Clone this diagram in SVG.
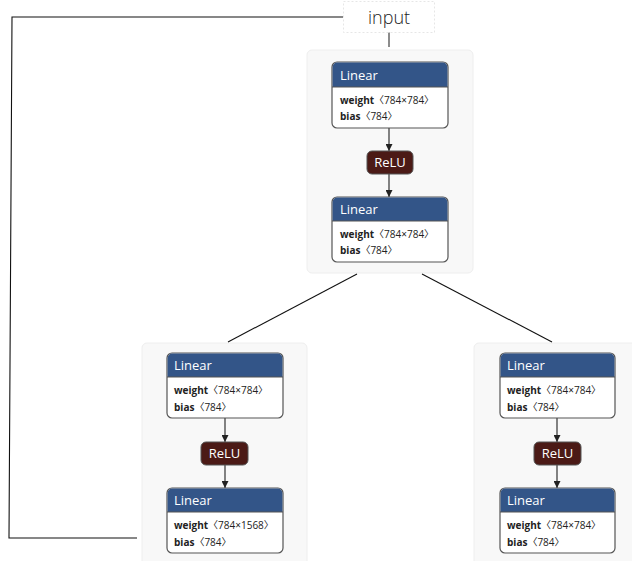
<svg xmlns="http://www.w3.org/2000/svg" width="632" height="561" viewBox="0 0 632 561">
<defs>
<marker id="arr" viewBox="0 0 10 10" refX="10" refY="5" markerWidth="7" markerHeight="7" markerUnits="userSpaceOnUse" orient="auto">
<path d="M0,0 L10,5 L0,10 z" fill="#222"/>
</marker>
<style>
.cont{fill:#f8f8f8;stroke:#eeeeee;stroke-width:1}
.lin{fill:#fff;stroke:#555;stroke-width:1.2}
.hdr{fill:#335588}
.relu{fill:#4b1a16;stroke:#555;stroke-width:1}
.t{font-family:"Open Sans","Noto Sans","Noto Sans CJK SC",sans-serif}
.ht{font-size:13px;fill:#fff}
.at{font-size:10px;fill:#222}
.b{font-weight:bold}
.e{stroke:#111;stroke-width:1.1;fill:none}
.ea{stroke:#333;stroke-width:1.2;fill:none;marker-end:url(#arr)}
</style>
</defs>
<rect width="632" height="561" fill="#fff"/>
<g id="containers">
<rect class="cont" x="307" y="50" width="166" height="223" rx="5"/>
<rect class="cont" x="142" y="343" width="165" height="230" rx="5"/>
<rect class="cont" x="474" y="343" width="170" height="230" rx="5"/>
</g>
<g id="connectors">
<path class="e" d="M343,17 L12,17 L9,538 L137,538"/>
<path d="M389,32 L389,47" stroke="#666" stroke-width="1.5"/>
<path class="e" d="M357,274 L228,342"/>
<path class="e" d="M422,274 L552,342"/>
<path class="ea" d="M389,128 L389,151"/>
<path class="ea" d="M389,174 L389,197"/>
<path class="ea" d="M225,418 L225,442"/>
<path class="ea" d="M225,465 L225,488"/>
<path class="ea" d="M557,418 L557,442"/>
<path class="ea" d="M557,465 L557,488"/>
</g>
<g id="input">
<rect x="343.5" y="1.5" width="91" height="31" fill="#fff" stroke="#e6e6e6" stroke-dasharray="2,2"/>
<text class="t" x="389" y="24" font-size="18" fill="#222" text-anchor="middle" font-weight="300">input</text>
</g>
<g id="lin1">
<rect class="lin" x="332" y="62" width="116" height="66" rx="5"/>
<path class="hdr" d="M337,62.6 H443 A4.4,4.4 0 0 1 447.4,67 V87 H332.6 V67 A4.4,4.4 0 0 1 337,62.6 Z"/>
<line x1="332" y1="87" x2="448" y2="87" stroke="#555" stroke-width="1"/>
<text class="t ht" x="340" y="80">Linear</text>
<text class="t at" x="340" y="104"><tspan class="b">weight</tspan>〈784×784〉</text>
<text class="t at" x="340" y="120"><tspan class="b">bias</tspan>〈784〉</text>
</g>
<g id="relu1">
<rect class="relu" x="367" y="151" width="46" height="23" rx="5"/>
<text class="t ht" x="390" y="167" text-anchor="middle">ReLU</text>
</g>
<g id="lin2">
<rect class="lin" x="332" y="197" width="116" height="65" rx="5"/>
<path class="hdr" d="M337,197.6 H443 A4.4,4.4 0 0 1 447.4,202 V221 H332.6 V202 A4.4,4.4 0 0 1 337,197.6 Z"/>
<line x1="332" y1="221" x2="448" y2="221" stroke="#555" stroke-width="1"/>
<text class="t ht" x="340" y="214">Linear</text>
<text class="t at" x="340" y="238"><tspan class="b">weight</tspan>〈784×784〉</text>
<text class="t at" x="340" y="254"><tspan class="b">bias</tspan>〈784〉</text>
</g>
<g id="lin3">
<rect class="lin" x="167" y="353" width="116" height="65" rx="5"/>
<path class="hdr" d="M172,353.6 H278 A4.4,4.4 0 0 1 282.4,358 V377 H167.6 V358 A4.4,4.4 0 0 1 172,353.6 Z"/>
<line x1="167" y1="377" x2="283" y2="377" stroke="#555" stroke-width="1"/>
<text class="t ht" x="174" y="370">Linear</text>
<text class="t at" x="174" y="394"><tspan class="b">weight</tspan>〈784×784〉</text>
<text class="t at" x="174" y="411"><tspan class="b">bias</tspan>〈784〉</text>
</g>
<g id="relu2">
<rect class="relu" x="201" y="442" width="47" height="23" rx="5"/>
<text class="t ht" x="224.5" y="458" text-anchor="middle">ReLU</text>
</g>
<g id="lin4">
<rect class="lin" x="167" y="488" width="116" height="65" rx="5"/>
<path class="hdr" d="M172,488.6 H278 A4.4,4.4 0 0 1 282.4,493 V512 H167.6 V493 A4.4,4.4 0 0 1 172,488.6 Z"/>
<line x1="167" y1="512" x2="283" y2="512" stroke="#555" stroke-width="1"/>
<text class="t ht" x="174" y="505">Linear</text>
<text class="t at" x="174" y="529"><tspan class="b">weight</tspan>〈784×1568〉</text>
<text class="t at" x="174" y="546"><tspan class="b">bias</tspan>〈784〉</text>
</g>
<g id="lin5">
<rect class="lin" x="500" y="353" width="115" height="65" rx="5"/>
<path class="hdr" d="M505,353.6 H610 A4.4,4.4 0 0 1 614.4,358 V377 H500.6 V358 A4.4,4.4 0 0 1 505,353.6 Z"/>
<line x1="500" y1="377" x2="615" y2="377" stroke="#555" stroke-width="1"/>
<text class="t ht" x="507" y="370">Linear</text>
<text class="t at" x="507" y="394"><tspan class="b">weight</tspan>〈784×784〉</text>
<text class="t at" x="507" y="411"><tspan class="b">bias</tspan>〈784〉</text>
</g>
<g id="relu3">
<rect class="relu" x="534" y="442" width="47" height="23" rx="5"/>
<text class="t ht" x="557.5" y="458" text-anchor="middle">ReLU</text>
</g>
<g id="lin6">
<rect class="lin" x="500" y="488" width="115" height="65" rx="5"/>
<path class="hdr" d="M505,488.6 H610 A4.4,4.4 0 0 1 614.4,493 V512 H500.6 V493 A4.4,4.4 0 0 1 505,488.6 Z"/>
<line x1="500" y1="512" x2="615" y2="512" stroke="#555" stroke-width="1"/>
<text class="t ht" x="507" y="505">Linear</text>
<text class="t at" x="507" y="529"><tspan class="b">weight</tspan>〈784×784〉</text>
<text class="t at" x="507" y="546"><tspan class="b">bias</tspan>〈784〉</text>
</g>
</svg>
